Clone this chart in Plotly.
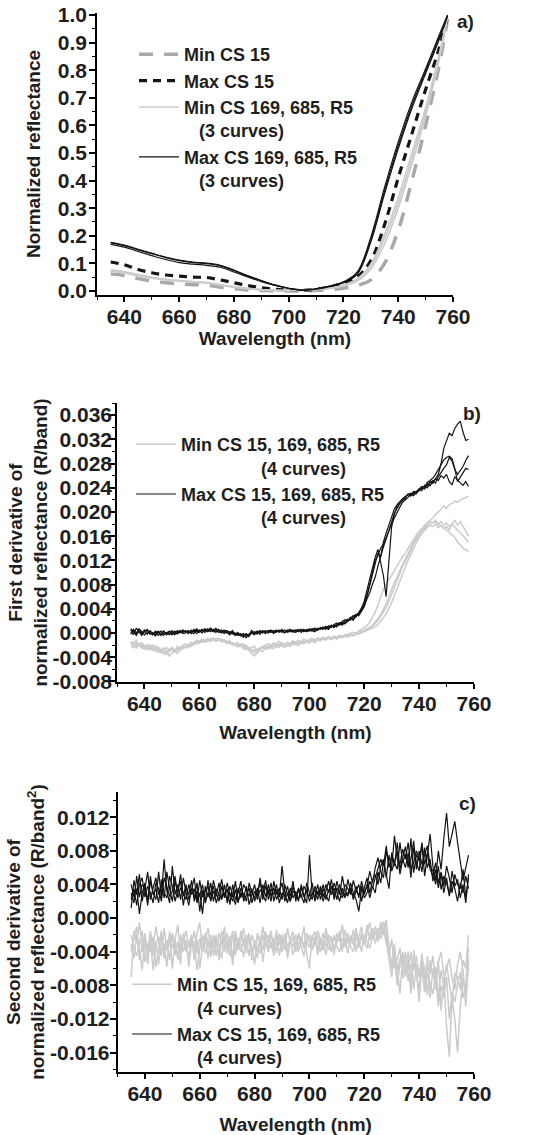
import plotly.graph_objects as go

# ---- panel a: normalized reflectance ----
wl_a = [635, 640, 645, 650, 655, 660, 665, 670, 675, 680, 685, 690, 695,
        700, 705, 710, 715, 720, 725, 730, 735, 740, 745, 750, 755, 758]

a_min15 = [0.062, 0.056, 0.045, 0.036, 0.030, 0.026, 0.023, 0.021, 0.014, 0.008, 0.004, 0.002, 0.001,
           0.000, 0.000, 0.002, 0.005, 0.010, 0.020, 0.040, 0.100, 0.220, 0.400, 0.600, 0.820, 0.985]
a_max15 = [0.105, 0.095, 0.078, 0.066, 0.058, 0.054, 0.050, 0.049, 0.040, 0.030, 0.020, 0.012, 0.006,
           0.003, 0.002, 0.006, 0.014, 0.028, 0.050, 0.110, 0.240, 0.410, 0.570, 0.730, 0.880, 0.995]
a_min1 = [0.075, 0.068, 0.058, 0.048, 0.042, 0.037, 0.033, 0.030, 0.022, 0.015, 0.009, 0.005, 0.002,
          0.002, 0.002, 0.005, 0.010, 0.020, 0.040, 0.090, 0.190, 0.320, 0.480, 0.650, 0.850, 0.995]
a_min2 = [0.072, 0.065, 0.055, 0.046, 0.040, 0.036, 0.032, 0.029, 0.021, 0.014, 0.008, 0.004, 0.002,
          0.001, 0.002, 0.004, 0.009, 0.018, 0.036, 0.080, 0.170, 0.300, 0.460, 0.635, 0.840, 0.992]
a_min3 = [0.078, 0.070, 0.060, 0.050, 0.043, 0.038, 0.034, 0.031, 0.023, 0.016, 0.010, 0.005, 0.003,
          0.002, 0.002, 0.005, 0.011, 0.022, 0.044, 0.098, 0.205, 0.340, 0.500, 0.665, 0.860, 0.998]
a_max1 = [0.176, 0.166, 0.151, 0.137, 0.123, 0.112, 0.105, 0.101, 0.093, 0.076, 0.056, 0.038, 0.022,
          0.010, 0.003, 0.008, 0.018, 0.033, 0.068, 0.195, 0.375, 0.540, 0.685, 0.805, 0.928, 1.000]
a_max2 = [0.169, 0.159, 0.143, 0.128, 0.114, 0.103, 0.097, 0.093, 0.086, 0.069, 0.051, 0.034, 0.020,
          0.009, 0.003, 0.007, 0.016, 0.030, 0.060, 0.178, 0.352, 0.515, 0.662, 0.788, 0.912, 0.995]
a_max3 = [0.174, 0.164, 0.149, 0.135, 0.121, 0.110, 0.103, 0.099, 0.091, 0.074, 0.055, 0.037, 0.021,
          0.010, 0.003, 0.008, 0.018, 0.031, 0.064, 0.186, 0.362, 0.527, 0.673, 0.796, 0.920, 0.998]

# ---- panels b and c: derivatives, 1 nm steps, values in units of 1e-4 ----
wl_bc = list(range(635, 759))
UNIT = 1e-4

b_min1 = [-14, -18, -12, -20, -16, -22, -19, -24, -20, -26,
          -23, -28, -25, -31, -27, -24, -29, -22, -26, -20,
          -18, -21, -15, -17, -12, -14, -10, -13, -9, -11,
          -8, -12, -10, -14, -11, -15, -13, -17, -19, -16,
          -21, -18, -24, -26, -30, -27, -33, -25, -22, -20,
          -18, -21, -16, -19, -14, -17, -20, -15, -18, -13,
          -16, -12, -15, -10, -13, -11, -9, -12, -8, -10,
          -7, -9, -6, -8, -5, -7, -4, -6, -3, -2,
          -1, 1, 0, 3, 5, 8, 12, 18, 25, 34,
          46, 58, 72, 80, 88, 96, 104, 112, 118, 126,
          132, 140, 148, 155, 162, 168, 172, 178, 182, 186,
          190, 196, 200, 204, 210, 206, 212, 214, 218, 216,
          220, 222, 224, 226]
b_min2 = [-18, -15, -22, -19, -25, -21, -27, -23, -29, -26,
          -32, -28, -35, -30, -38, -33, -29, -34, -27, -24,
          -22, -19, -17, -20, -14, -16, -12, -15, -11, -13,
          -10, -13, -9, -12, -15, -13, -18, -16, -20, -22,
          -19, -25, -28, -24, -29, -33, -27, -27, -25, -22,
          -24, -19, -22, -18, -21, -16, -19, -22, -17, -20,
          -15, -18, -14, -17, -12, -15, -13, -16, -11, -13,
          -10, -12, -9, -11, -8, -10, -6, -8, -5, -7,
          -4, -5, -2, 0, 2, 4, 6, 9, 13, 18,
          24, 30, 38, 48, 60, 72, 84, 92, 104, 114,
          122, 132, 140, 150, 158, 164, 170, 176, 180, 184,
          182, 186, 180, 184, 178, 182, 176, 180, 174, 170,
          166, 160, 156, 150]
b_min3 = [-20, -24, -17, -22, -19, -26, -23, -20, -25, -21,
          -26, -30, -27, -24, -29, -25, -31, -28, -23, -26,
          -21, -24, -19, -16, -18, -13, -15, -11, -14, -10,
          -12, -9, -11, -14, -12, -16, -14, -19, -17, -21,
          -18, -23, -20, -26, -24, -22, -28, -26, -23, -27,
          -22, -25, -20, -23, -18, -21, -24, -19, -22, -17,
          -19, -21, -16, -18, -14, -17, -12, -14, -10, -12,
          -9, -11, -8, -10, -6, -9, -7, -5, -6, -3,
          -4, -2, -3, 0, 1, 3, 5, 8, 11, 15,
          20, 27, 34, 42, 52, 64, 76, 86, 98, 110,
          118, 128, 136, 146, 154, 162, 168, 172, 176, 178,
          176, 180, 174, 178, 172, 176, 170, 180, 186, 178,
          184, 176, 168, 160]
b_min4 = [-16, -21, -25, -18, -23, -27, -22, -28, -24, -30,
          -27, -33, -29, -36, -31, -27, -32, -26, -29, -23,
          -25, -20, -22, -18, -15, -17, -13, -16, -12, -14,
          -11, -14, -12, -10, -13, -17, -15, -20, -18, -23,
          -20, -26, -23, -29, -34, -38, -32, -28, -31, -25,
          -27, -23, -26, -21, -24, -19, -22, -18, -21, -16,
          -18, -15, -17, -13, -16, -14, -11, -13, -9, -11,
          -8, -10, -7, -9, -6, -8, -5, -7, -4, -5,
          -3, -4, -1, -2, 0, 2, 3, 5, 7, 10,
          14, 19, 25, 32, 40, 50, 62, 74, 86, 98,
          110, 120, 130, 140, 150, 158, 164, 170, 176, 180,
          182, 184, 180, 176, 174, 170, 166, 162, 158, 150,
          146, 140, 138, 135]

b_max1 = [5, -3, 8, 1, -4, 3, 6, -2, 0, -5,
          2, -4, 3, -3, 0, 4, -2, 3, 0, 5,
          1, 4, -1, 6, 2, 5, 0, 7, 3, 6,
          2, 8, 3, 0, 5, 2, -1, 4, -2, -4,
          -2, -7, -1, -4, 4, 0, 3, -2, 4, 1,
          3, 5, 0, 4, 2, 6, 0, 4, 5, 1,
          4, 6, 1, 5, 3, 7, 4, 2, 6, 8,
          6, 9, 6, 11, 13, 10, 15, 18, 15, 21,
          25, 21, 28, 31, 37, 46, 60, 78, 96, 118,
          132, 126, 150, 165, 178, 192, 205, 212, 218, 222,
          226, 228, 231, 229, 234, 236, 239, 241, 246, 243,
          250, 255, 262, 280, 305, 318, 330, 326, 338, 345,
          350, 332, 318, 320]
b_max2 = [-2, 6, 0, 7, 2, -3, 1, 4, -3, 2,
          -4, 0, 3, -2, 1, -3, 3, 0, 4, 1,
          3, -1, 5, 2, 7, 3, 6, 1, 4, 8,
          4, 1, 6, 3, -1, 2, -3, 1, -4, -1,
          -5, -2, -8, -3, -1, 2, -2, 3, 0, 4,
          1, 4, -1, 2, 5, 1, 4, 2, 6, 3,
          1, 5, 3, 6, 2, 5, 7, 4, 8, 6,
          10, 7, 12, 9, 14, 16, 13, 19, 22, 19,
          24, 29, 26, 34, 41, 52, 70, 88, 108, 125,
          138, 118, 95, 60, 120, 175, 196, 210, 215, 221,
          224, 229, 226, 232, 230, 238, 235, 244, 240, 248,
          252, 248, 258, 266, 272, 278, 290, 284, 270, 262,
          268, 275, 285, 293]
b_max3 = [7, 1, -3, 4, 0, 5, -2, 3, 1, -2,
          3, -2, -4, 1, -3, 0, 2, -2, 3, -1,
          0, 3, 1, 4, -1, 2, 5, 3, 7, 2,
          6, 3, 2, 5, 1, 4, 1, -2, 0, -3,
          -1, -4, -2, -6, 0, -3, 1, 0, 3, -1,
          4, 1, 2, 5, 1, 4, 0, 5, 2, 3,
          5, 2, 6, 3, 4, 3, 6, 7, 4, 9,
          7, 11, 8, 13, 10, 15, 17, 15, 20, 23,
          21, 27, 31, 28, 35, 43, 56, 66, 80, 92,
          110, 128, 142, 155, 170, 182, 198, 206, 214, 219,
          222, 230, 228, 234, 233, 238, 242, 240, 249, 252,
          256, 262, 270, 278, 286, 290, 292, 288, 272, 250,
          258, 266, 272, 270]
b_max4 = [0, 4, -4, 3, -1, 1, 4, 0, -3, 3,
          0, 3, -2, 0, 3, 1, -3, 4, 1, 2,
          4, 1, 2, -1, 5, 1, 4, 6, 2, 5,
          3, 6, 1, 2, 4, 0, 2, 0, -3, 1,
          -4, -1, -5, -2, 1, -1, 0, 4, 1, 2,
          0, 3, 4, 1, 4, 2, 5, 1, 3, 5,
          1, 4, 5, 2, 6, 4, 3, 8, 5, 7,
          9, 6, 10, 12, 9, 13, 16, 13, 18, 19,
          26, 24, 30, 33, 38, 48, 62, 80, 100, 120,
          128, 140, 146, 158, 168, 180, 190, 200, 208, 216,
          220, 224, 230, 227, 232, 235, 240, 238, 244, 250,
          247, 255, 252, 260, 256, 262, 250, 245, 258, 252,
          248, 244, 250, 242]

c_min1 = [-70, -15, -30, -5, -40, -22, -55, -18, -35, -10,
          -28, -45, -12, -38, -20, -60, -25, -8, -42, -30,
          -15, -35, -22, -50, -18, -5, -40, -28, -12, -36,
          -24, -45, -18, -30, -10, -38, -22, -48, -15, -32,
          -26, -12, -42, -20, -35, -55, -18, -30, -10, -28,
          -40, -20, -32, -14, -45, -25, -38, -12, -30, -22,
          -35, -18, -28, -10, -42, -60, -20, -32, -15, -26,
          -38, -12, -30, -22, -44, -18, -28, -8, -35, -20,
          -30, -14, -40, -22, -10, -32, -18, -5, -26, -15,
          -28, -8, -20, -2, -35, -60, -45, -80, -55, -40,
          -70, -50, -90, -38, -65, -100, -55, -75, -45, -95,
          -60, -85, -50, -110, -70, -130, -165, -95, -120, -160,
          -105, -70, -90, -55]
c_min2 = [-30, -48, -20, -36, -62, -25, -40, -15, -45, -28,
          -55, -22, -38, -30, -50, -18, -32, -46, -20, -40,
          -26, -58, -30, -15, -42, -24, -36, -20, -48, -28,
          -35, -20, -50, -25, -40, -18, -30, -56, -22, -38,
          -15, -34, -26, -45, -20, -30, -40, -22, -52, -28,
          -20, -36, -24, -42, -18, -30, -22, -48, -26, -34,
          -20, -40, -26, -32, -18, -28, -36, -22, -44, -30,
          -18, -34, -26, -40, -20, -30, -15, -36, -24, -42,
          -20, -28, -12, -35, -22, -30, -8, -26, -18, -10,
          -22, -5, -14, -30, -45, -25, -60, -50, -35, -72,
          -48, -60, -40, -85, -55, -70, -42, -80, -58, -66,
          -45, -75, -52, -40, -68, -60, -48, -72, -85, -55,
          -40, -62, -105, -48]
c_min3 = [-20, -35, -45, -28, -15, -52, -30, -40, -22, -58,
          -35, -15, -48, -26, -32, -20, -44, -28, -55, -18,
          -40, -30, -20, -44, -26, -60, -32, -18, -28, -46,
          -20, -30, -42, -15, -34, -26, -45, -20, -35, -28,
          -40, -24, -32, -18, -50, -26, -36, -42, -20, -34,
          -28, -15, -38, -30, -24, -40, -18, -34, -26, -44,
          -28, -22, -34, -45, -26, -20, -38, -28, -22, -40,
          -28, -20, -38, -30, -22, -34, -40, -24, -30, -18,
          -34, -40, -22, -30, -18, -28, -36, -20, -12, -30,
          -16, -25, -10, -20, -50, -70, -40, -58, -90, -45,
          -62, -40, -78, -52, -66, -85, -48, -60, -92, -50,
          -70, -58, -95, -62, -80, -55, -75, -100, -65, -70,
          -85, -50, -60, -20]
c_min4 = [-40, -25, -10, -50, -32, -18, -45, -26, -62, -30,
          -22, -40, -30, -58, -16, -36, -24, -50, -30, -38,
          -32, -48, -24, -30, -62, -36, -20, -42, -30, -20,
          -45, -25, -32, -48, -20, -42, -30, -15, -44, -24,
          -32, -46, -20, -28, -40, -32, -48, -26, -38, -16,
          -36, -28, -45, -22, -32, -20, -30, -40, -24, -16,
          -40, -30, -22, -36, -28, -35, -22, -16, -38, -24,
          -30, -44, -20, -26, -35, -28, -20, -40, -14, -30,
          -24, -32, -18, -26, -40, -20, -28, -36, -22, -18,
          -12, -20, -4, -15, -38, -55, -30, -65, -48, -58,
          -40, -75, -55, -62, -45, -70, -58, -88, -66, -78,
          -90, -65, -105, -80, -95, -70, -120, -88, -100, -78,
          -65, -95, -80, -35]

c_max1 = [12, 45, 28, 52, 20, 38, 15, 44, 30, 22,
          55, 25, 70, 32, 18, 62, 28, 40, 22, 48,
          30, 15, 36, 24, 42, 8, 33, 20, 45, 27,
          38, 18, 30, 46, 24, 35, 16, 40, 22, 30,
          44, 20, 28, 36, 18, 32, 26, 48, 22, 38,
          28, 42, 20, 34, 25, 62, 30, 18, 36, 24,
          32, 20, 40, 26, 18, 75, 28, 34, 22, 38,
          25, 40, 30, 46, 22, 36, 28, 50, 32, 26,
          42, 30, 22, 8, 35, 28, 40, 24, 38, 30,
          55, 42, 68, 50, 35, 78, 62, 90, 58, 72,
          85, 60, 95, 54, 76, 68, 88, 50, 72, 100,
          62, 45, 80, 58, 95, 125, 85, 100, 115, 90,
          70, 45, 60, 75]
c_max2 = [30, 18, 50, 25, 40, 35, 55, 22, 36, 48,
          28, 40, 24, 55, 35, 20, 44, 30, 52, 26,
          40, 22, 34, 48, 18, 30, 5, 38, 25, 42,
          20, 35, 28, 22, 40, 18, 30, 25, 44, 20,
          30, 24, 38, 16, 28, 40, 22, 34, 28, 45,
          22, 35, 28, 40, 18, 30, 26, 38, 20, 32,
          28, 22, 36, 25, 34, 20, 30, 24, 40, 22,
          35, 28, 20, 38, 26, 44, 30, 24, 40, 35,
          28, 45, 32, 40, 20, 36, 48, 30, 45, 52,
          40, 62, 70, 48, 75, 56, 66, 80, 52, 70,
          60, 78, 48, 84, 66, 56, 90, 64, 78, 58,
          50, 66, 42, 55, 38, 62, 48, 30, 52, 40,
          35, 58, 25, 48]
c_max3 = [40, 25, 35, 5, 30, 42, 20, 50, 28, 35,
          18, 46, 30, 24, 50, 38, 20, 34, 44, 15,
          36, 28, 45, 20, 32, 26, 40, 18, 30, 22,
          45, 30, 20, 38, 26, 42, 28, 20, 34, 18,
          36, 28, 20, 42, 30, 24, 36, 18, 40, 26,
          34, 20, 44, 28, 36, 22, 40, 28, 20, 38,
          24, 36, 28, 18, 42, 30, 22, 38, 28, 34,
          20, 32, 44, 28, 36, 22, 40, 30, 24, 46,
          32, 26, 38, 24, 44, 30, 38, 56, 42, 60,
          72, 55, 48, 80, 64, 60, 98, 70, 64, 82,
          70, 90, 58, 66, 80, 72, 55, 84, 60, 70,
          44, 58, 36, 52, 30, 48, 26, 44, 35, 20,
          42, 30, 50, 35]
c_max4 = [22, 35, 15, 40, 48, 25, 38, 30, 18, 42,
          35, 20, 48, 38, 26, 32, 50, 24, 36, 30,
          22, 40, 28, 35, 20, 45, 25, 32, 38, 20,
          32, 26, 42, 24, 30, 22, 38, 28, 16, 36,
          24, 40, 32, 26, 35, 20, 30, 42, 28, 20,
          40, 26, 36, 22, 32, 42, 20, 30, 26, 44,
          20, 34, 24, 38, 30, 26, 42, 20, 32, 28,
          40, 22, 34, 28, 42, 30, 20, 36, 26, 30,
          36, 22, 32, 28, 38, 24, 30, 44, 36, 48,
          58, 70, 62, 86, 60, 74, 66, 58, 90, 66,
          76, 62, 70, 92, 58, 80, 64, 74, 86, 62,
          56, 40, 62, 34, 50, 42, 28, 56, 38, 46,
          24, 40, 18, 52]

# tick labels
ticks_x = [640, 660, 680, 700, 720, 740, 760]
ticks_a = [0.0, 0.1, 0.2, 0.3, 0.4, 0.5, 0.6, 0.7, 0.8, 0.9, 1.0]
ticks_b = [-0.008, -0.004, 0.000, 0.004, 0.008, 0.012, 0.016, 0.020, 0.024, 0.028, 0.032, 0.036]
ticks_c = [-0.016, -0.012, -0.008, -0.004, 0.000, 0.004, 0.008, 0.012]

W, H = 549, 1135
FONT = "Liberation Sans, Arial, sans-serif"
BLACK = "#141414"
LGRAY = "#cbcbcb"
DGRAY = "#a9a9a9"
TXT = "#1e1e1e"


def dom_x(left, right):
    return [left / W, right / W]


def dom_y(top, bottom):
    return [1 - bottom / H, 1 - top / H]


fig = go.Figure()

# panel a
fig.add_trace(go.Scatter(x=wl_a, y=a_min15, mode="lines", line=dict(color=DGRAY, width=3.5, dash="14px,11px", shape="spline"),
                         name="Min CS 15", legend="legend", xaxis="x", yaxis="y"))
fig.add_trace(go.Scatter(x=wl_a, y=a_max15, mode="lines", line=dict(color=BLACK, width=3.2, dash="8px,6px", shape="spline"),
                         name="Max CS 15", legend="legend", xaxis="x", yaxis="y"))
for i, ys in enumerate([a_min1, a_min2, a_min3]):
    fig.add_trace(go.Scatter(x=wl_a, y=ys, mode="lines", line=dict(color=LGRAY, width=1.6, shape="spline"),
                             name="Min CS 169, 685, R5<br>\u00a0\u00a0\u00a0(3 curves)", showlegend=(i == 0),
                             legend="legend", xaxis="x", yaxis="y"))
for i, ys in enumerate([a_max1, a_max2, a_max3]):
    fig.add_trace(go.Scatter(x=wl_a, y=ys, mode="lines", line=dict(color=BLACK, width=1.2, shape="spline"),
                             name="Max CS 169, 685, R5<br>\u00a0\u00a0\u00a0(3 curves)", showlegend=(i == 0),
                             legend="legend", xaxis="x", yaxis="y"))

# panels b and c
panels = [
    ("x2", "y2", "legend2", [b_min1, b_min2, b_min3, b_min4], [b_max1, b_max2, b_max3, b_max4], 16),
    ("x3", "y3", "legend3", [c_min1, c_min2, c_min3, c_min4], [c_max1, c_max2, c_max3, c_max4], 4),
]
for xa, ya, lg, mins, maxs, indent in panels:
    pad = "\u00a0" * indent
    for i, ys in enumerate(mins):
        fig.add_trace(go.Scatter(x=wl_bc, y=[v * UNIT for v in ys], mode="lines", line=dict(color=LGRAY, width=1.5),
                                 name="Min CS 15, 169, 685, R5<br>" + pad + "(4 curves)", showlegend=(i == 0),
                                 legend=lg, xaxis=xa, yaxis=ya))
    for i, ys in enumerate(maxs):
        fig.add_trace(go.Scatter(x=wl_bc, y=[v * UNIT for v in ys], mode="lines", line=dict(color=BLACK, width=1.2),
                                 name="Max CS 15, 169, 685, R5<br>" + pad + "(4 curves)", showlegend=(i == 0),
                                 legend=lg, xaxis=xa, yaxis=ya))

tickfont = dict(family=FONT, size=21, color=TXT, weight="bold")
titlefont = dict(family=FONT, size=19, color=TXT, weight="bold")


def xax(domain, anchor, standoff):
    return dict(domain=domain, anchor=anchor, range=[630, 760], showline=True, linecolor="black", linewidth=1.6,
                ticks="outside", ticklen=5, tickwidth=1.5, tickcolor="black", showgrid=False, zeroline=False,
                automargin=False, ticklabelstandoff=-3,
                tickmode="array", tickvals=ticks_x, ticktext=[str(t) for t in ticks_x], tickfont=tickfont,
                minor=dict(ticks="outside", ticklen=3, tickwidth=1.3, tickcolor="black", dtick=10, tick0=630, showgrid=False),
                title=dict(text="Wavelength (nm)", font=titlefont, standoff=standoff))


def yax(domain, anchor, rng, ticks, fmt, minor_step, title, standoff, lab_shift):
    return dict(domain=domain, anchor=anchor, range=rng, showline=True, linecolor="black", linewidth=1.6,
                ticks="outside", ticklen=6, tickwidth=1.5, tickcolor="black", showgrid=False, zeroline=False,
                automargin=False, ticklabelstandoff=lab_shift,
                tickmode="array", tickvals=ticks, ticktext=[fmt.format(t) for t in ticks], tickfont=tickfont,
                minor=dict(ticks="outside", ticklen=3, tickwidth=1.3, tickcolor="black", dtick=minor_step, tick0=0, showgrid=False),
                title=dict(text=title, font=titlefont, standoff=standoff))


legend_common = dict(xanchor="left", yanchor="top", bgcolor="rgba(0,0,0,0)", valign="top", itemwidth=40,
                     font=dict(family=FONT, size=18, color=TXT, weight="bold"), tracegroupgap=0,
                     itemclick=False)

fig.update_layout(
    width=W, height=H, autosize=False,
    margin=dict(l=0, r=0, t=0, b=0, autoexpand=False),
    paper_bgcolor="white", plot_bgcolor="white",
    xaxis=xax(dom_x(97, 453), "y", 5),
    yaxis=yax(dom_y(13, 295), "x", [-0.0145, 1.007], ticks_a, "{:.1f}", 0.05, "Normalized reflectance", 12, -2),
    xaxis2=xax(dom_x(117, 474), "y2", 12),
    yaxis2=yax(dom_y(403, 682), "x2", [-0.0081, 0.038], ticks_b, "{:.3f}", 0.002,
               "First derivative of<br>normalized reflectance (R/band)", 0, -7),
    xaxis3=xax(dom_x(117.5, 474), "y3", 14),
    yaxis3=yax(dom_y(792, 1072), "x3", [-0.0183, 0.015], ticks_c, "{:.3f}", 0.002,
               "Second derivative of<br>normalized reflectance (R/band<sup>2</sup>)", 0, -4),
    legend=dict(legend_common, x=134 / W, y=1 - 36 / H),
    legend2=dict(legend_common, x=131 / W, y=1 - 426 / H),
    legend3=dict(legend_common, x=127 / W, y=1 - 966 / H),
    showlegend=True,
)

for label, px, py in [("a)", 465, 22), ("b)", 472, 413), ("c)", 467, 803)]:
    fig.add_annotation(text=label, x=px / W, y=1 - py / H, xref="paper", yref="paper", showarrow=False,
                       xanchor="center", yanchor="middle",
                       font=dict(family=FONT, size=19, color=TXT, weight="bold"))

# page body has a default margin; drop it so the figure sits at the window origin
fig.write_html("out.html", config={"displayModeBar": False},
               post_script="document.body.style.margin='0';document.body.style.overflow='hidden';")
